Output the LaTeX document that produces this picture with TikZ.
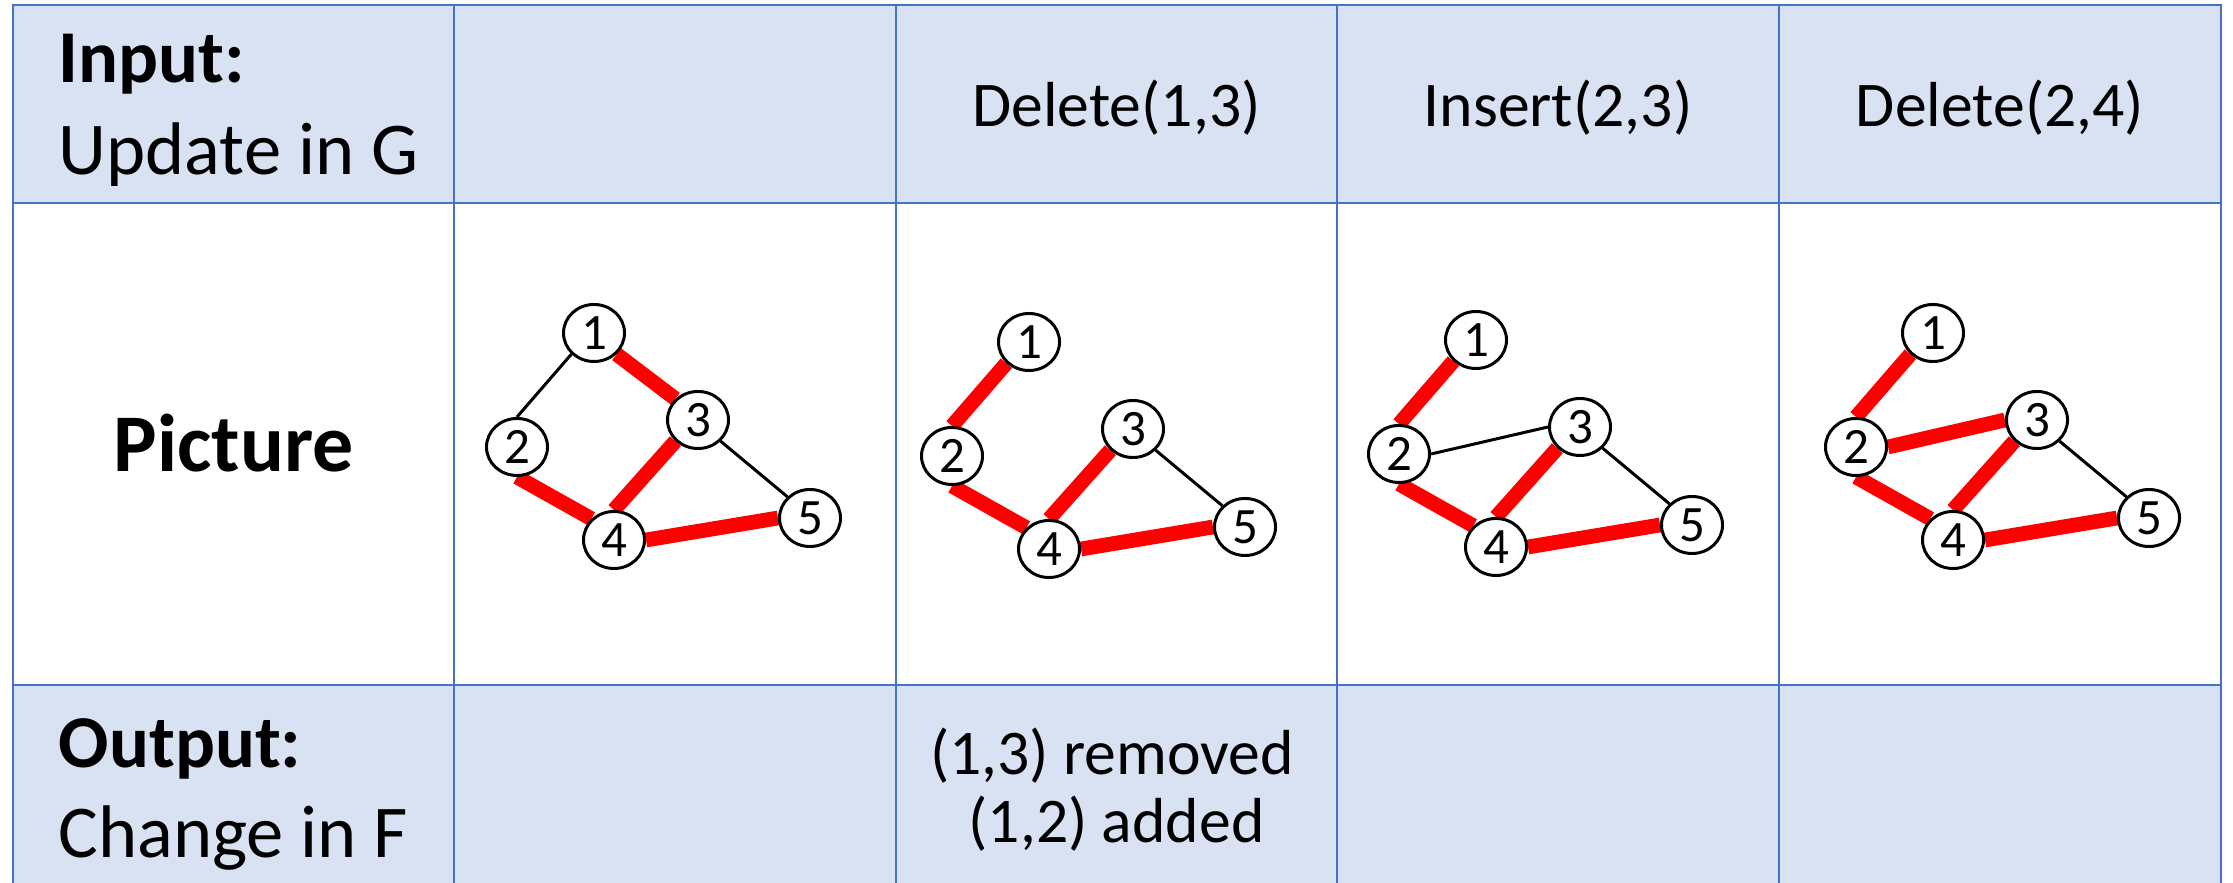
\documentclass[tikz,border=0pt]{standalone}
\usepackage{fontspec}
\setmainfont{Carlito}
\usetikzlibrary{shapes.geometric}
\definecolor{tblline}{HTML}{4472C4}
\definecolor{tblfill}{HTML}{D9E2F3}
\pgfdeclarelayer{back}
\pgfdeclarelayer{edges}
\pgfsetlayers{back,edges,main}
% five vertices of one graph, shifted by (#2,#3); names #1n1 ... #1n5
\newcommand\placegraph[3]{%
  \node[vert] (#1n1) at (594+#2,333+#3) {1};
  \node[vert] (#1n2) at (517+#2,447+#3) {2};
  \node[vert] (#1n3) at (698+#2,420+#3) {3};
  \node[vert] (#1n4) at (614+#2,540+#3) {4};
  \node[vert] (#1n5) at (810+#2,518+#3) {5};
}
\begin{document}
\begin{tikzpicture}[x=0.01cm,y=-0.01cm,
  vert/.style={ellipse, draw, line width=0.85pt, fill=white,
    minimum width=0.61cm, minimum height=0.57cm, inner sep=0pt,
    font=\fontsize{14.5}{16}\selectfont},
  treeedge/.style={draw=red, line width=4.2pt},
  plainedge/.style={draw=black, line width=0.85pt},
  grid/.style={draw=tblline, line width=0.6pt},
  headfont/.style={inner sep=0pt, font=\fontsize{21.2}{24}\selectfont},
  headbold/.style={inner sep=0pt, font=\bfseries\fontsize{21.2}{24}\selectfont},
  opfont/.style={inner sep=0pt, font=\fontsize{18.1}{21}\selectfont}]
\useasboundingbox (0,0) rectangle (2233,883);

% table: white page, shaded header and footer rows, blue rules
\begin{pgfonlayer}{back}
  \fill[white] (0,0) rectangle (2233,883);
  \fill[tblfill] (13,5) rectangle (2221,203);
  \fill[tblfill] (13,685) rectangle (2221,883);
  \draw[grid] (13,883) -- (13,5) -- (2221,5) -- (2221,883);
  \foreach \cx in {454,896,1337,1779} \draw[grid] (\cx,5) -- (\cx,883);
  \draw[grid] (13,203) -- (2221,203);
  \draw[grid] (13,685) -- (2221,685);
\end{pgfonlayer}

% row labels
\node[headbold, anchor=base west] (inputhd) at (58,83) {Input:};
\node[headfont, anchor=base west] (inputtx) at (58,175) {Update in G};
\node[inner sep=0pt, font=\bfseries\fontsize{23.3}{28}\selectfont, anchor=base] (pichd) at (233.5,472) {Picture};
\node[headbold, anchor=base west] (outputhd) at (58,768) {Output:};
\node[headfont, anchor=base west] (outputtx) at (58,858) {Change in F};

% update operations
\node[opfont, anchor=base] (opA) at (1116.5,127) {Delete(1,3)};
\node[opfont, anchor=base] (opB) at (1558,127) {Insert(2,3)};
\node[opfont, anchor=base] (opC) at (2000,127) {Delete(2,4)};

% change in the forest
\node[opfont, anchor=base] (chA) at (1112,775) {(1,3) removed};
\node[opfont, anchor=base] (chB) at (1116.5,843) {(1,2) added};

% graphs
\placegraph{A}{0}{0}
\placegraph{B}{435}{9}
\placegraph{C}{882}{7}
\placegraph{D}{1339}{0}

\begin{pgfonlayer}{edges}
  % initial graph
  \draw[plainedge] (An1.south west) -- (An2.north);
  \draw[treeedge]  (An1.south east) -- (An3.north west);
  \draw[treeedge]  (An2.south) -- (An4.north west);
  \draw[treeedge]  (An3.south west) -- (An4.north);
  \draw[plainedge] (An3.south east) -- (An5.north west);
  \draw[treeedge]  (An4.east) -- (An5.west);
  % after Delete(1,3)
  \draw[treeedge]  (Bn1.south west) -- (Bn2.north);
  \draw[treeedge]  (Bn2.south) -- (Bn4.north west);
  \draw[treeedge]  (Bn3.south west) -- (Bn4.north);
  \draw[plainedge] (Bn3.south east) -- (Bn5.north west);
  \draw[treeedge]  (Bn4.east) -- (Bn5.west);
  % after Insert(2,3)
  \draw[treeedge]  (Cn1.south west) -- (Cn2.north);
  \draw[plainedge] (Cn2.east) -- (Cn3.west);
  \draw[treeedge]  (Cn2.south) -- (Cn4.north west);
  \draw[treeedge]  (Cn3.south west) -- (Cn4.north);
  \draw[plainedge] (Cn3.south east) -- (Cn5.north west);
  \draw[treeedge]  (Cn4.east) -- (Cn5.west);
  % Delete(2,4) column
  \draw[treeedge]  (Dn1.south west) -- (Dn2.north);
  \draw[treeedge]  (Dn2.east) -- (Dn3.west);
  \draw[treeedge]  (Dn2.south) -- (Dn4.north west);
  \draw[treeedge]  (Dn3.south west) -- (Dn4.north);
  \draw[plainedge] (Dn3.south east) -- (Dn5.north west);
  \draw[treeedge]  (Dn4.east) -- (Dn5.west);
\end{pgfonlayer}
\end{tikzpicture}
\end{document}
